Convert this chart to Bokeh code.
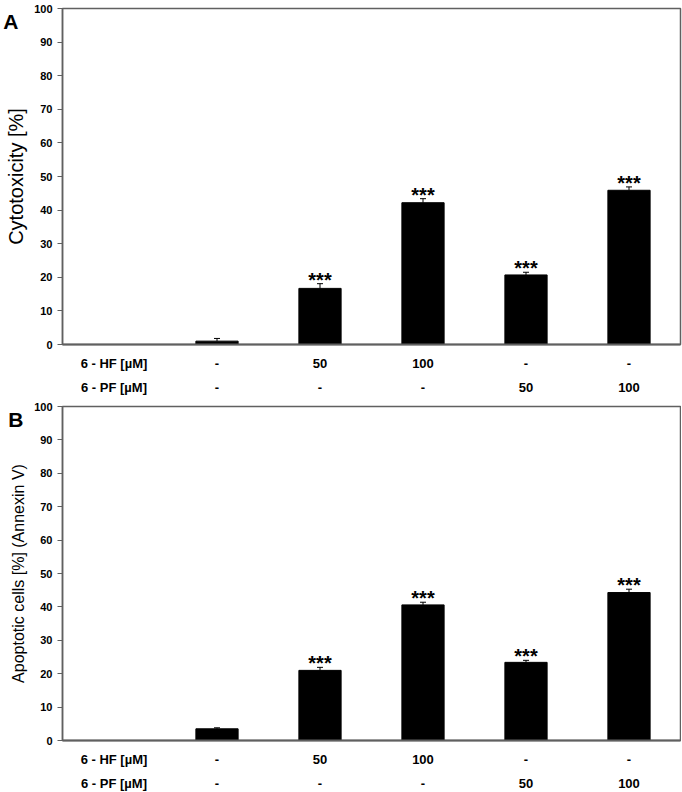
from bokeh.plotting import figure
from bokeh.models import (Range1d, FixedTicker, LinearAxis, Whisker, ColumnDataSource,
                          TeeHead)
from bokeh.layouts import column
from bokeh.embed import file_html
from bokeh.resources import INLINE
from bokeh.core.properties import value

# ---- data ----
hf_labels = ["6 - HF [µM]", "-", "50", "100", "-", "-"]
pf_labels = ["6 - PF [µM]", "-", "-", "-", "50", "100"]
cytotoxicity = [1.0, 16.7, 42.2, 20.7, 45.9]
cytotoxicity_err = [0.8, 1.4, 1.2, 0.8, 1.0]
apoptotic = [3.5, 21.0, 40.6, 23.4, 44.3]
apoptotic_err = [0.3, 0.9, 0.8, 0.6, 1.0]
signif = ["", "***", "***", "***", "***"]
y_ticks = [0, 10, 20, 30, 40, 50, 60, 70, 80, 90, 100]

FONT = "Liberation Sans"
AXIS = "#606060"

slots = [i + 0.5 for i in range(len(hf_labels))]
bar_x = slots[1:]


def bare_axis(ax):
    ax.axis_line_color = None
    ax.major_tick_line_color = None
    ax.major_tick_out = 0
    ax.major_tick_in = 0
    ax.minor_tick_line_color = None
    ax.minor_tick_out = 0
    ax.minor_tick_in = 0
    ax.major_label_text_font = FONT
    ax.major_label_text_font_style = "bold"
    ax.major_label_text_color = "black"


def make_panel(letter, ylabel, vals, errs, label_size, top_border, fh):
    p = figure(frame_width=618, frame_height=fh, x_range=Range1d(0, len(hf_labels)),
               y_range=Range1d(0, 100), output_backend="svg", toolbar_location=None,
               min_border_left=60, min_border_right=3, min_border_top=top_border,
               min_border_bottom=0)
    p.grid.visible = False
    p.outline_line_color = AXIS
    p.outline_line_width = 1.5
    p.background_fill_color = "white"
    p.border_fill_color = "white"

    # y axis
    ya = p.yaxis[0]
    ya.ticker = FixedTicker(ticks=y_ticks)
    ya.minor_tick_line_color = None
    ya.minor_tick_out = 0
    ya.major_tick_in = 0
    ya.major_tick_out = 5
    ya.major_tick_line_color = AXIS
    ya.axis_line_color = AXIS
    ya.axis_line_width = 1.5
    ya.major_label_text_font = FONT
    ya.major_label_text_font_style = "bold"
    ya.major_label_text_font_size = "11px"
    ya.major_label_text_color = "black"
    ya.major_label_standoff = 5
    ya.axis_label = ylabel
    ya.axis_label_text_font = FONT
    ya.axis_label_text_font_style = "normal"
    ya.axis_label_text_font_size = label_size
    ya.axis_label_text_color = "black"
    ya.axis_label_standoff = 4

    # panel letter, overlapping the axis-label column
    la = LinearAxis(ticker=FixedTicker(ticks=[96]), major_label_overrides={96: letter})
    bare_axis(la)
    la.major_label_text_font_size = "21px"
    la.major_label_standoff = -16
    p.add_layout(la, "left")

    # x axis: first label row
    xa = p.xaxis[0]
    xa.ticker = FixedTicker(ticks=slots)
    xa.major_label_overrides = {s: t for s, t in zip(slots, hf_labels)}
    bare_axis(xa)
    xa.axis_line_color = AXIS
    xa.axis_line_width = 2
    xa.major_label_text_font_size = "13px"
    xa.major_label_standoff = 11
    # second label row
    xa2 = LinearAxis(ticker=FixedTicker(ticks=slots),
                     major_label_overrides={s: t for s, t in zip(slots, pf_labels)})
    bare_axis(xa2)
    xa2.major_label_text_font_size = "13px"
    xa2.major_label_standoff = 6
    p.add_layout(xa2, "below")

    tops = [v + e for v, e in zip(vals, errs)]
    src = ColumnDataSource(dict(x=bar_x, top=vals, upper=tops, sig=signif))
    p.vbar(x="x", top="top", bottom=0, width=0.41, source=src,
           fill_color="black", line_color="black")
    p.add_layout(Whisker(base="x", lower="top", upper="upper", source=src,
                         line_color="black", line_width=1,
                         upper_head=TeeHead(size=6, line_color="black", line_width=1),
                         lower_head=None))
    p.text(x="x", y="upper", text="sig", source=src, text_align="center",
           text_baseline="alphabetic", y_offset=-4, text_font=value(FONT),
           text_font_style="bold", text_font_size="20px", text_color="black")
    return p


pa = make_panel("A", "Cytotoxicity [%]", cytotoxicity, cytotoxicity_err, "20px", 8, 336)
pb = make_panel("B", "Apoptotic cells [%] (Annexin V)", apoptotic, apoptotic_err, "16px", 9, 334)

layout = column(pa, pb, spacing=0)
open("out.html", "w").write(file_html(layout, INLINE))
